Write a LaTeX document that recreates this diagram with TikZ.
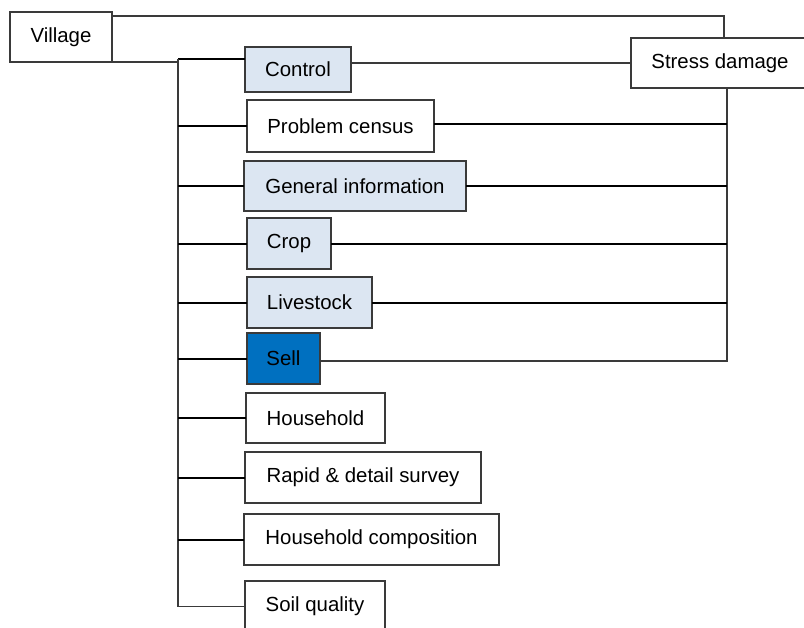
\documentclass[tikz,border=0pt]{standalone}
\usepackage{fontspec}
\setmainfont{Liberation Sans}
\usetikzlibrary{calc}
\definecolor{paleblue}{HTML}{DCE6F2}
\definecolor{deepblue}{HTML}{0070C0}
\definecolor{edgegray}{HTML}{3A3A3A}
\begin{document}
\begin{tikzpicture}[x=0.75pt,y=-0.75pt,
  box/.style={draw=edgegray,line width=0.8pt,fill=white,inner sep=0pt,outer sep=0pt,
    font=\fontsize{15.3}{18}\selectfont},
  wh/.style 2 args={minimum width=#1*0.75pt,minimum height=#2*0.75pt},
  shaded/.style={fill=paleblue},
  dark/.style={fill=deepblue},
  link/.style={draw=edgegray,line width=0.9pt},
  strong/.style={draw=black,line width=1.5pt}]
\useasboundingbox (0,0) rectangle (804,628);

% boxes
\node[box,wh={102}{50}] (village) at (61,37) {Village};
\node[box,wh={178}{50}] (stress) at (720,63) {Stress damage};
\node[box,shaded,wh={106}{45}] (control) at (298,69.5) {Control};
\node[box,wh={187}{52}] (problem) at (340.5,126) {Problem census};
\node[box,shaded,wh={222}{50}] (geninfo) at (355,186) {General information};
\node[box,shaded,wh={84}{51}] (crop) at (289,243.5) {Crop};
\node[box,shaded,wh={125}{51}] (livestock) at (309.5,302.5) {Livestock};
\node[box,dark,wh={73}{51}] (sell) at (283.5,358.5) {Sell};
\node[box,wh={139}{50}] (household) at (315.5,418) {Household};
\node[box,wh={236}{51}] (rapid) at (363,477.5) {Rapid \& detail survey};
\node[box,wh={255}{51}] (hhcomp) at (371.5,539.5) {Household composition};
\node[box,wh={140}{51}] (soil) at (315,606.5) {Soil quality};

% junction points of the two rails
\coordinate (trunk) at (178,59);
\coordinate (rail) at (727,88);

% Village to Stress damage over the top
\draw[link] ($(village.north east)+(0,4)$) -| ($(stress.north)+(4,0)$);

% Village to the left trunk
\draw[link] (village.south east) -| (trunk);
\draw[strong] (trunk) -- (trunk -| control.west);
\draw[link] (trunk) |- (soil.west);

% branches off the trunk
\foreach \n in {problem,geninfo,crop,livestock,sell,household,rapid,hhcomp}
  \draw[strong] (\n.west -| trunk) -- (\n.west);

% Control to Stress damage
\draw[link] (control.east |- stress.west) -- (stress.west);

% right rail down from Stress damage
\draw[link] (rail) |- ($(sell.east)+(0,2.5)$);
\draw[strong] ($(problem.east)+(0,-2)$) -- ($(problem.east -| rail)+(0,-2)$);
\foreach \n in {geninfo,crop,livestock}
  \draw[strong] (\n.east) -- (\n.east -| rail);
\end{tikzpicture}
\end{document}
